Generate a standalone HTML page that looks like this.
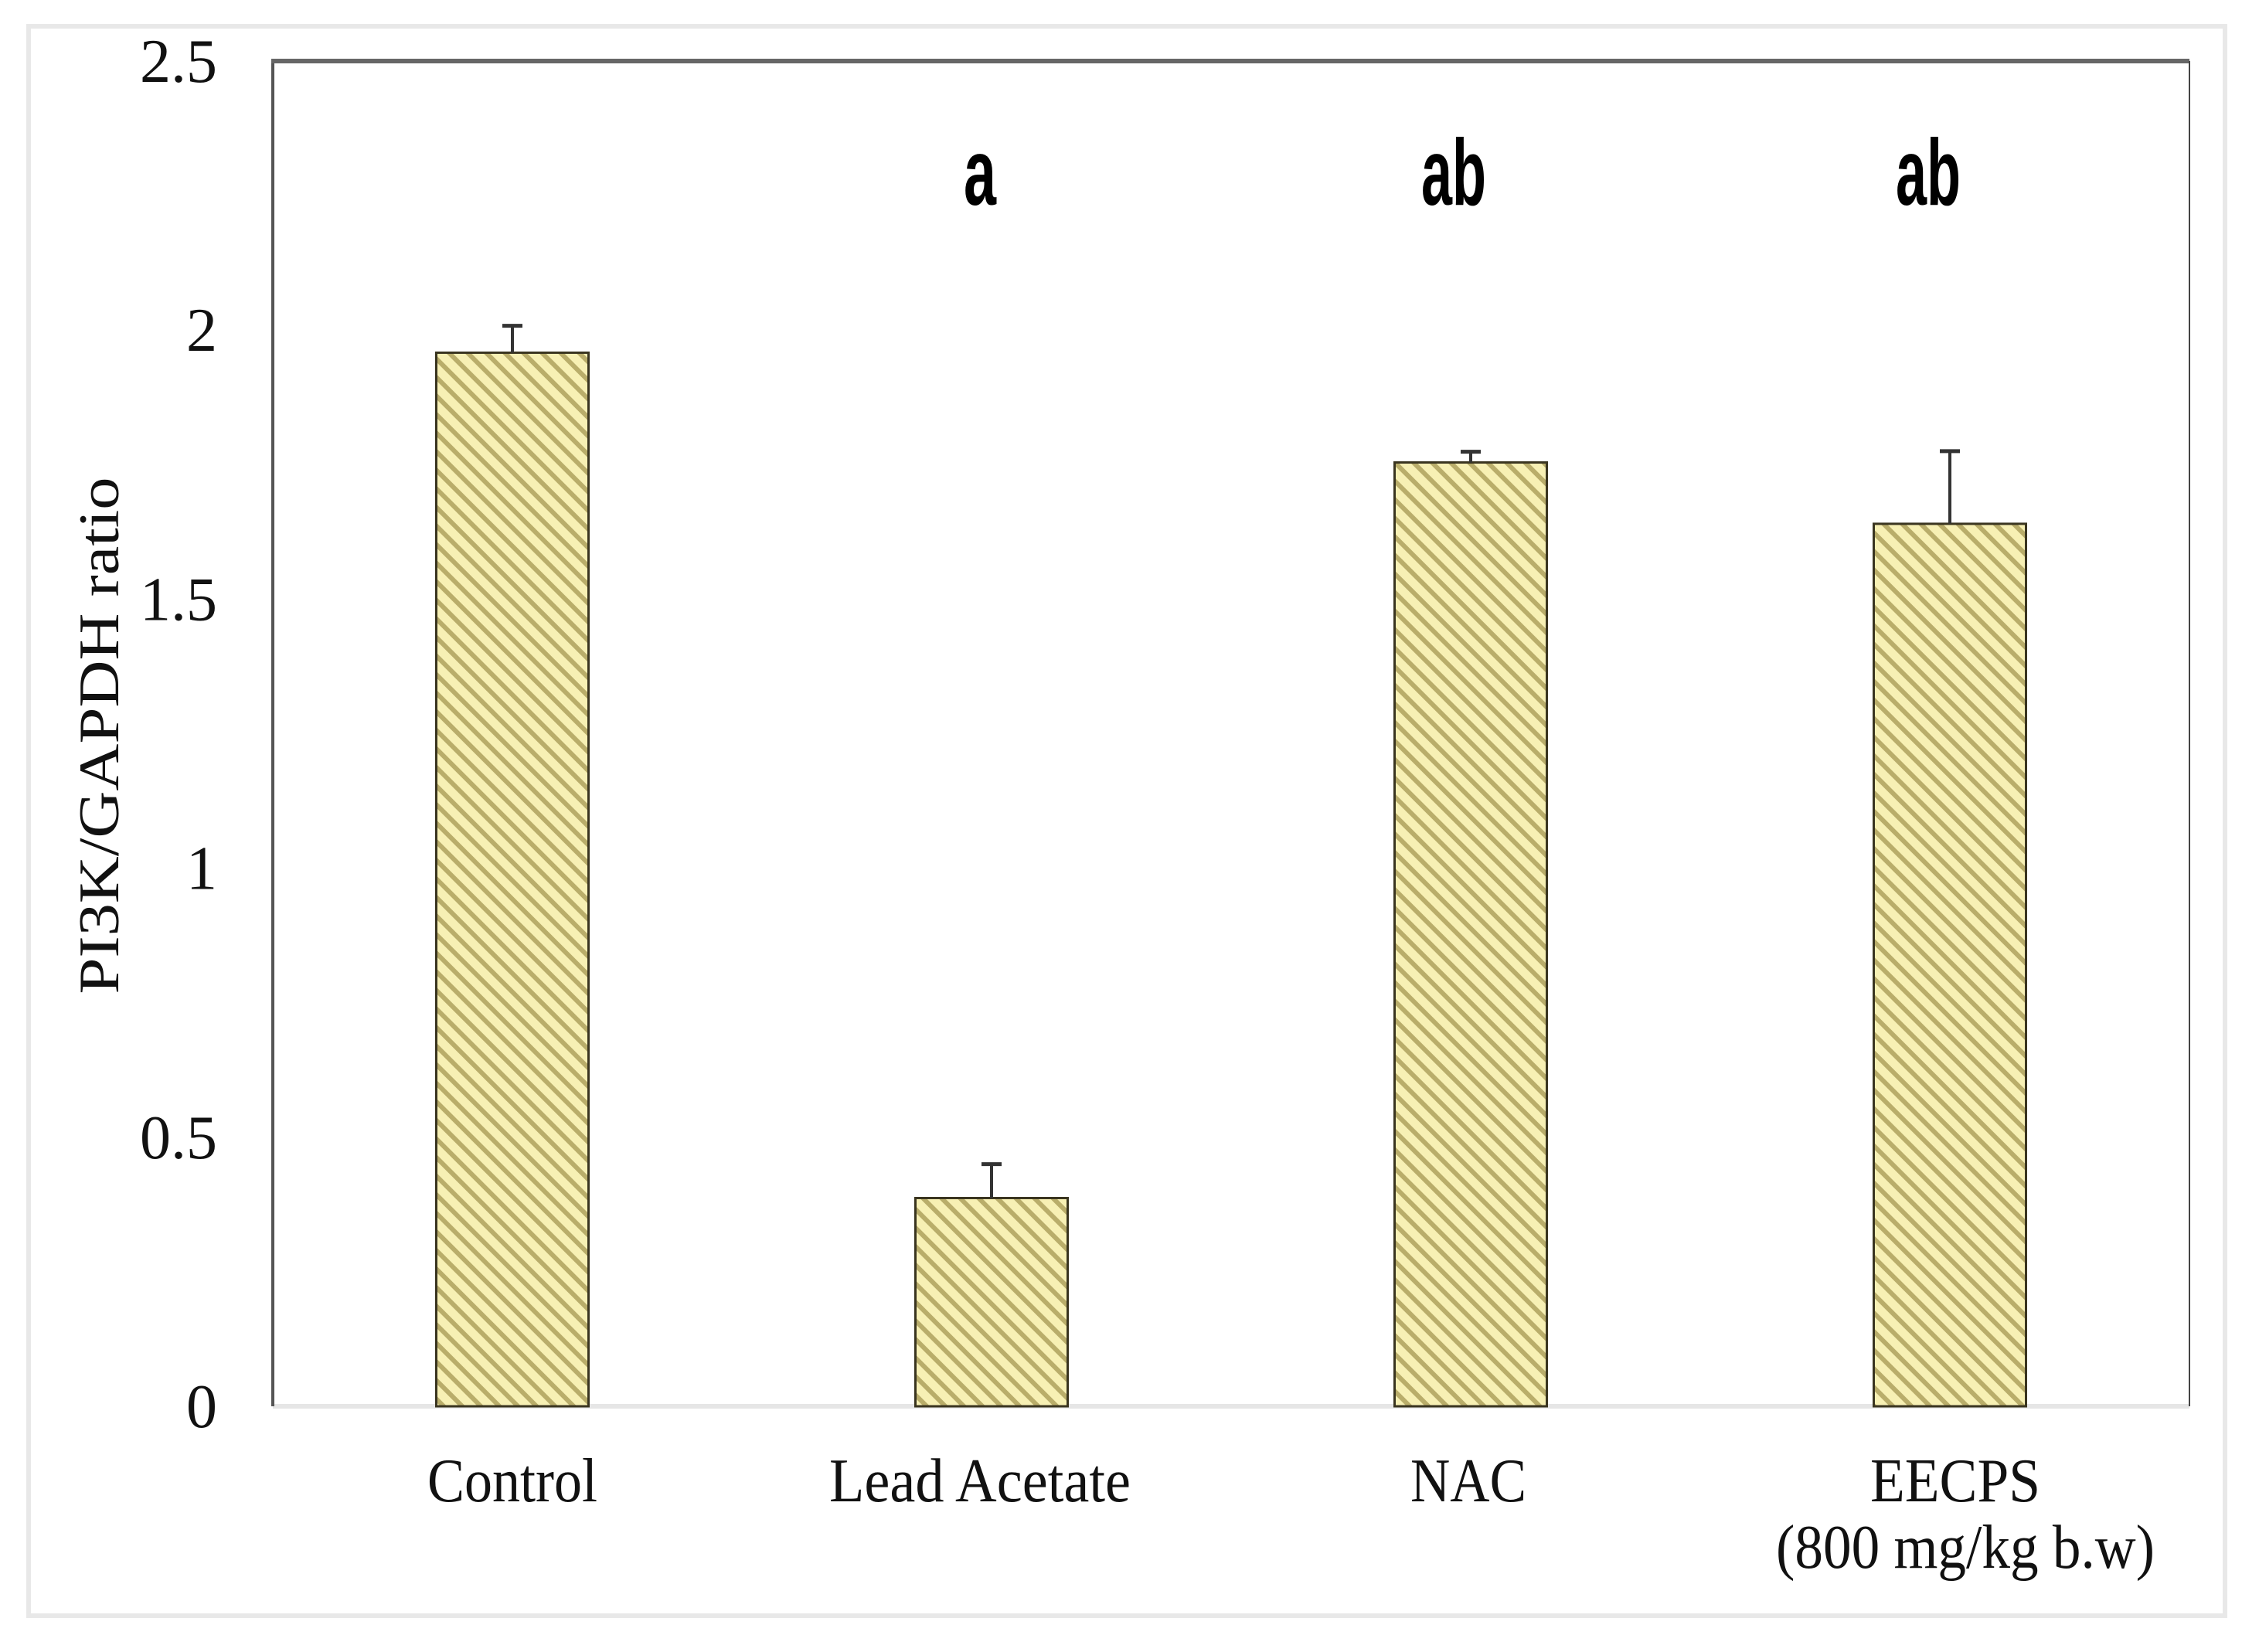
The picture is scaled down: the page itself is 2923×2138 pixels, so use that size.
<!DOCTYPE html>
<html><head><meta charset="utf-8"><style>
html,body{margin:0;padding:0;background:#fff;}
svg{display:block;}
</style></head><body>
<svg id="chart" width="2923" height="2138" viewBox="0 0 2923 2138" xmlns="http://www.w3.org/2000/svg">
<defs>
<pattern id="hatch" patternUnits="userSpaceOnUse" width="17" height="17" patternTransform="rotate(-45)">
<rect width="17" height="17" fill="#f7f0b4"/>
<rect width="6" height="17" fill="#b9ad6a"/>
</pattern>
</defs>
<rect x="37" y="34" width="2842" height="2057" fill="#fff" stroke="#e8e8e8" stroke-width="6"/>
<g id="plot"></g>
</svg>
<script>
const categories = ["Control", "Lead Acetate", "NAC", "EECPS"];
const values = [1.958, 0.387, 1.754, 1.640];
const errors = [0.05, 0.063, 0.02, 0.135];
const letters = ["", "a", "ab", "ab"];
const yTicks = [0, 0.5, 1, 1.5, 2, 2.5];
const yTickLabels = ["0", "0.5", "1", "1.5", "2", "2.5"];

const NS = "http://www.w3.org/2000/svg";
const L = 353, R = 2833, T = 79, B = 1820, YMAX = 2.5;
const band = (R - L) / categories.length;
const barW = 197;
function y(v){ return B - (v / YMAX) * (B - T); }
function xc(i){ return L + band * (i + 0.5); }
const g = document.getElementById("plot");
function mk(tag, attrs){ const e = document.createElementNS(NS, tag); for (const k in attrs) e.setAttribute(k, attrs[k]); g.appendChild(e); return e; }

let e;
e = mk("line", {x1:L, y1:B, x2:R, y2:B, stroke:"#e6e6e6", "stroke-width":6});


e = mk("line", {x1:L, y1:T, x2:L, y2:B, stroke:"#555", "stroke-width":4});


e = mk("line", {x1:L-2, y1:T, x2:R, y2:T, stroke:"#666", "stroke-width":6});


e = mk("line", {x1:R, y1:T, x2:R, y2:B, stroke:"#444", "stroke-width":2});



yTicks.forEach((t, i) => {
  const tx = mk("text", {x:281, y:y(t)+27, "text-anchor":"end", "font-family":"Liberation Serif, serif", "font-size":80, fill:"#111"});
  tx.textContent = yTickLabels[i];
  
  
});

const yt = mk("text", {x:0, y:0, transform:"translate(153,952) rotate(-90)", "text-anchor":"middle", "font-family":"Liberation Serif, serif", "font-size":74, fill:"#111", textLength:669, lengthAdjust:"spacingAndGlyphs"});
yt.textContent = "PI3K/GAPDH ratio";



const letterOffsets = [0, -15, -22, -28];
categories.forEach((c, i) => {
  const cx = xc(i);
  const top = y(values[i]);
  const bar = mk("rect", {x:cx-barW/2, y:top, width:barW, height:B-top, fill:"url(#hatch)", stroke:"#3a3520", "stroke-width":3});
  
  
  const ey = y(values[i] + errors[i]);
  const el = mk("line", {x1:cx, y1:top, x2:cx, y2:ey, stroke:"#333", "stroke-width":4});
  
  
  const cap = mk("line", {x1:cx-13, y1:ey, x2:cx+13, y2:ey, stroke:"#333", "stroke-width":5});
  
  
  if (letters[i]) {
    const lt = mk("text", {x:cx+letterOffsets[i], y:265, "text-anchor":"middle", "font-family":"Liberation Sans, sans-serif", "font-weight":"bold", "font-size":122, fill:"#000", textLength: letters[i].length*42, lengthAdjust:"spacingAndGlyphs"});
    lt.textContent = letters[i];
    
    
  }
});

const xLabels = [["Control"], ["Lead Acetate"], ["NAC"], ["EECPS", "(800 mg/kg b.w)"]];
const xLabelWidths = [[220], [390], [150], [220, 490]];
const xLabelOffsets = [[0], [-15], [-3], [7, 20]];
xLabels.forEach((lines, i) => {
  lines.forEach((s, j) => {
    const tx = mk("text", {x:xc(i)+xLabelOffsets[i][j], y:1943 + j*86, "text-anchor":"middle", "font-family":"Liberation Serif, serif", "font-size":80, fill:"#111", textLength:xLabelWidths[i][j], lengthAdjust:"spacingAndGlyphs"});
    tx.textContent = s;
    
    
  });
});
</script>
</body></html>
